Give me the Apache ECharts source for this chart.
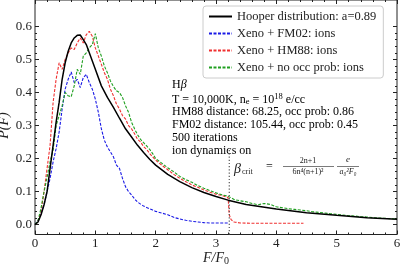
<!DOCTYPE html>
<html>
<head>
<meta charset="utf-8">
<script src="https://cdn.jsdelivr.net/npm/echarts@6/dist/echarts.min.js"></script>
<style>
  html, body { margin: 0; padding: 0; background: #fff; }
  #chart { width: 400px; height: 268px; }
</style>
</head>
<body>
<div id="chart"></div>
<script>
// F/F0 positions and P(F) values
const hooperX = [0, 0.05, 0.1, 0.15, 0.2, 0.25, 0.3, 0.35, 0.4, 0.45, 0.5, 0.55, 0.6, 0.65, 0.7, 0.75, 0.8, 0.85, 0.9, 0.95,
  1.0, 1.1, 1.2, 1.3, 1.4, 1.5, 1.6, 1.7, 1.8, 1.9, 2.0, 2.2, 2.4, 2.6, 2.8, 3.0, 3.2, 3.5, 4.0, 4.5, 5.0, 5.5, 6.0];
const hooperY = [0, 0.008, 0.03, 0.06, 0.1, 0.17, 0.24, 0.31, 0.37, 0.44, 0.49, 0.525, 0.55, 0.565, 0.573, 0.574, 0.56, 0.545, 0.52, 0.495,
  0.47, 0.42, 0.385, 0.355, 0.322, 0.29, 0.265, 0.24, 0.218, 0.198, 0.18, 0.152, 0.13, 0.112, 0.097, 0.085, 0.074, 0.061, 0.047, 0.036, 0.028, 0.021, 0.016];

// histogram bins: every 0.05 up to 2, then every 0.1
const fineX = [0, 0.05, 0.1, 0.15, 0.2, 0.25, 0.3, 0.35, 0.4, 0.45, 0.5, 0.55, 0.6, 0.65, 0.7, 0.75, 0.8, 0.85, 0.9, 0.95,
  1.0, 1.05, 1.1, 1.15, 1.2, 1.25, 1.3, 1.35, 1.4, 1.45, 1.5, 1.55, 1.6, 1.65, 1.7, 1.75, 1.8, 1.85, 1.9, 1.95, 2.0];

const fm02X = fineX.concat([2.1, 2.2, 2.3, 2.4, 2.5, 2.6, 2.7, 2.8, 2.9, 3.0, 3.1, 3.2]);
const fm02Y = [0, 0.012, 0.035, 0.06, 0.1, 0.14, 0.19, 0.23, 0.28, 0.35, 0.41, 0.44, 0.462, 0.43, 0.44, 0.415, 0.445, 0.455, 0.43, 0.41,
  0.38, 0.34, 0.29, 0.255, 0.235, 0.22, 0.205, 0.18, 0.17, 0.14, 0.115, 0.1, 0.09, 0.078, 0.068, 0.062, 0.056, 0.052, 0.048, 0.044, 0.04,
  0.035, 0.03, 0.022, 0.017, 0.013, 0.01, 0.008, 0.006, 0.005, 0.005, 0.005, 0.005];

const hm88X = fineX.concat([2.1, 2.2, 2.3, 2.4, 2.5, 2.6, 2.7, 2.8, 2.9, 3.0, 3.1, 3.2,
  3.22, 3.25, 3.3, 3.4, 3.6, 3.8, 4.0, 4.2, 4.45]);
const hm88Y = [0, 0.01, 0.04, 0.1, 0.17, 0.24, 0.37, 0.44, 0.49, 0.47, 0.5, 0.52, 0.535, 0.53, 0.55, 0.565, 0.55, 0.575, 0.585, 0.57,
  0.535, 0.51, 0.485, 0.46, 0.44, 0.41, 0.39, 0.365, 0.35, 0.33, 0.32, 0.3, 0.29, 0.275, 0.258, 0.25, 0.236, 0.228, 0.215, 0.205, 0.195,
  0.18, 0.166, 0.152, 0.14, 0.13, 0.12, 0.113, 0.105, 0.098, 0.092, 0.088, 0.082,
  0.03, 0.015, 0.008, 0.005, 0.004, 0.004, 0.004, 0.004, 0.004];

const noOccX = fineX.concat([2.1, 2.2, 2.3, 2.4, 2.5, 2.6, 2.7, 2.8, 2.9, 3.0, 3.1, 3.2, 3.3, 3.4, 3.5, 3.6, 3.7, 3.8, 3.9, 4.0,
  4.1, 4.2, 4.3, 4.4, 4.5, 4.6, 4.7, 4.8, 4.9, 5.0, 5.1, 5.2, 5.3, 5.4, 5.5, 5.6, 5.7, 5.8, 5.9, 6.0]);
const noOccY = [0, 0.012, 0.05, 0.1, 0.143, 0.19, 0.225, 0.3, 0.33, 0.36, 0.4, 0.39, 0.387, 0.42, 0.47, 0.455, 0.51, 0.52, 0.535, 0.545,
  0.578, 0.535, 0.51, 0.48, 0.46, 0.435, 0.418, 0.405, 0.4, 0.385, 0.36, 0.34, 0.31, 0.29, 0.272, 0.258, 0.248, 0.238, 0.228, 0.215, 0.2,
  0.186, 0.172, 0.16, 0.146, 0.136, 0.128, 0.118, 0.11, 0.103, 0.096, 0.09, 0.086, 0.076, 0.072, 0.069, 0.064, 0.06, 0.064, 0.061, 0.054,
  0.051, 0.048, 0.046, 0.044, 0.042, 0.039, 0.037, 0.035, 0.033, 0.031, 0.029, 0.027, 0.026, 0.024, 0.023, 0.021, 0.02, 0.019, 0.018, 0.017];

// beta_crit marker
const betaCrit = 3.22;
const betaLine = [-0.03, 0.23];

const seriesNames = ['Hooper distribution: a=0.89', 'Xeno + FM02: ions', 'Xeno + HM88: ions', 'Xeno + no occ prob: ions'];
const noteLines = [
  '{r|H}{i|β}',
  '{r|T = 10,000K, n}{sub|e}{r| = 10}{sup|18}{r| e/cc}',
  '{r|HM88 distance: 68.25, occ prob: 0.86}',
  '{r|FM02 distance: 105.44, occ prob: 0.45}',
  '{r|500 iterations}',
  '{r|ion dynamics on}'
];

const yMin = -0.03, yMax = 0.68;
const serif = '"Liberation Serif", "DejaVu Serif", serif';
const ink = '#222';

const pairs = (xs, ys) => xs.map((x, i) => [x, ys[i]]);

// plot frame in pixels
const W = 400, H = 268;
const box = { left: 35, right: 3, top: 0, bottom: 33.5 };
const plotH = H - box.top - box.bottom;
const yPix = v => box.top + (yMax - v) / (yMax - yMin) * plotH;

const chart = echarts.init(document.getElementById('chart'));

const tickBits = {
  axisLine: { show: false, onZero: false },
  axisTick: { inside: true, length: 4, lineStyle: { color: ink } },
  minorTick: { show: true, splitNumber: 5, length: 2, lineStyle: { color: ink } },
  splitLine: { show: false },
};

const labelFont = { color: ink, fontFamily: serif, fontSize: 13 };

const richBase = {
  r: { fontFamily: serif, fontSize: 12, color: ink },
  i: { fontFamily: serif, fontSize: 12, fontStyle: 'italic', color: ink },
  sub: { fontFamily: serif, fontSize: 8.5, color: ink, padding: [5, 0, 0, 0] },
  sup: { fontFamily: serif, fontSize: 8.5, color: ink, padding: [0, 0, 6, 0] },
};

const notes = noteLines.map((t, i) => ({
  type: 'text',
  x: 172,
  y: 79 + i * 13.2,
  style: { text: t, rich: richBase },
}));

const small = { fontFamily: serif, fontSize: 8, fill: ink };
const formula = [
  { type: 'text', x: 234, y: 162, style: { text: 'β', font: 'italic 14px ' + serif, fill: ink } },
  { type: 'text', x: 242, y: 168, style: Object.assign({ text: 'crit' }, small) },
  { type: 'text', x: 266, y: 161, style: { text: '=', font: '12px ' + serif, fill: ink } },
  { type: 'text', x: 308, y: 157, style: Object.assign({ text: '2n+1', align: 'center' }, small) },
  { type: 'line', shape: { x1: 283, y1: 166.5, x2: 334, y2: 166.5 }, style: { stroke: ink, lineWidth: 0.6 } },
  { type: 'text', x: 308, y: 168, style: Object.assign({ text: '6n⁴(n+1)²', align: 'center' }, small) },
  { type: 'text', x: 348, y: 155, style: { text: 'e', align: 'center', font: 'italic 9px ' + serif, fill: ink } },
  { type: 'line', shape: { x1: 337, y1: 166.5, x2: 359, y2: 166.5 }, style: { stroke: ink, lineWidth: 0.6 } },
  { type: 'text', x: 348, y: 168, style: { text: 'a₀²F₀', align: 'center', font: 'italic 8px ' + serif, fill: ink } },
];

const option = {
  animation: false,
  backgroundColor: '#fff',
  grid: [
    Object.assign({ show: true, borderColor: ink, borderWidth: 1, backgroundColor: 'transparent', outerBoundsMode: 'none' }, box),
    // label-only grid spanning 0 .. 0.6
    { left: box.left, right: box.right, top: yPix(0.6), bottom: H - yPix(0), outerBoundsMode: 'none' },
  ],
  legend: {
    data: seriesNames,
    orient: 'vertical',
    left: 203,
    top: 6,
    itemWidth: 23,
    itemHeight: 10,
    itemGap: 4,
    padding: [4, 7, 4, 5],
    backgroundColor: '#fff',
    borderColor: '#ccc',
    borderWidth: 1,
    borderRadius: 3,
    itemStyle: { opacity: 0 },
    textStyle: { fontFamily: serif, fontSize: 12.5, color: ink, lineHeight: 13 },
  },
  xAxis: [
    Object.assign({}, tickBits, {
      type: 'value', gridIndex: 0, min: 0, max: 6, interval: 1,
      axisLabel: Object.assign({ margin: 3 }, labelFont),
      name: '{i|F/F}{s|0}',
      nameLocation: 'middle',
      nameGap: 16,
      nameMoveOverlap: false,
      nameTextStyle: {
        rich: {
          i: { fontFamily: serif, fontSize: 14, fontStyle: 'italic', color: ink },
          s: { fontFamily: serif, fontSize: 10, color: ink, padding: [6, 0, 0, 0] },
        },
      },
    }),
    Object.assign({}, tickBits, {
      type: 'value', gridIndex: 0, position: 'top', min: 0, max: 6, interval: 1,
      axisLabel: { show: false },
    }),
    { type: 'value', gridIndex: 1, min: 0, max: 6, show: false },
  ],
  yAxis: [
    { type: 'value', gridIndex: 0, min: yMin, max: yMax, show: false },
    Object.assign({}, tickBits, {
      type: 'value', gridIndex: 1, min: 0, max: 0.6, interval: 0.1,
      axisLabel: Object.assign({ margin: 3, formatter: v => v.toFixed(1) }, labelFont),
      name: 'P(F)',
      nameLocation: 'middle',
      nameGap: 24,
      nameMoveOverlap: false,
      nameTextStyle: { fontFamily: serif, fontSize: 14, fontStyle: 'italic', color: ink },
    }),
    Object.assign({}, tickBits, {
      type: 'value', gridIndex: 1, position: 'right', min: 0, max: 0.6, interval: 0.1,
      axisLabel: { show: false },
    }),
  ],
  series: [
    {
      name: seriesNames[0], type: 'line', symbol: 'none', z: 5,
      data: pairs(hooperX, hooperY),
      lineStyle: { color: '#000', width: 1.5 }, itemStyle: { color: '#000' },
    },
    {
      name: seriesNames[1], type: 'line', symbol: 'none',
      data: pairs(fm02X, fm02Y),
      lineStyle: { color: '#1a1ae6', width: 1.1, type: [3, 1.5] }, itemStyle: { color: '#1a1ae6' },
    },
    {
      name: seriesNames[2], type: 'line', symbol: 'none',
      data: pairs(hm88X, hm88Y),
      lineStyle: { color: '#f03030', width: 1.1, type: [3, 1.5] }, itemStyle: { color: '#f03030' },
    },
    {
      name: seriesNames[3], type: 'line', symbol: 'none',
      data: pairs(noOccX, noOccY),
      lineStyle: { color: '#20a020', width: 1.1, type: [3, 1.5] }, itemStyle: { color: '#20a020' },
    },
    {
      name: 'beta_crit', type: 'line', symbol: 'none', silent: true,
      data: betaLine.map(v => [betaCrit, v]),
      lineStyle: { color: '#555', width: 1.2, type: [1.2, 2] },
    },
  ],
  graphic: notes.concat(formula),
};

chart.setOption(option);
</script>
</body>
</html>
